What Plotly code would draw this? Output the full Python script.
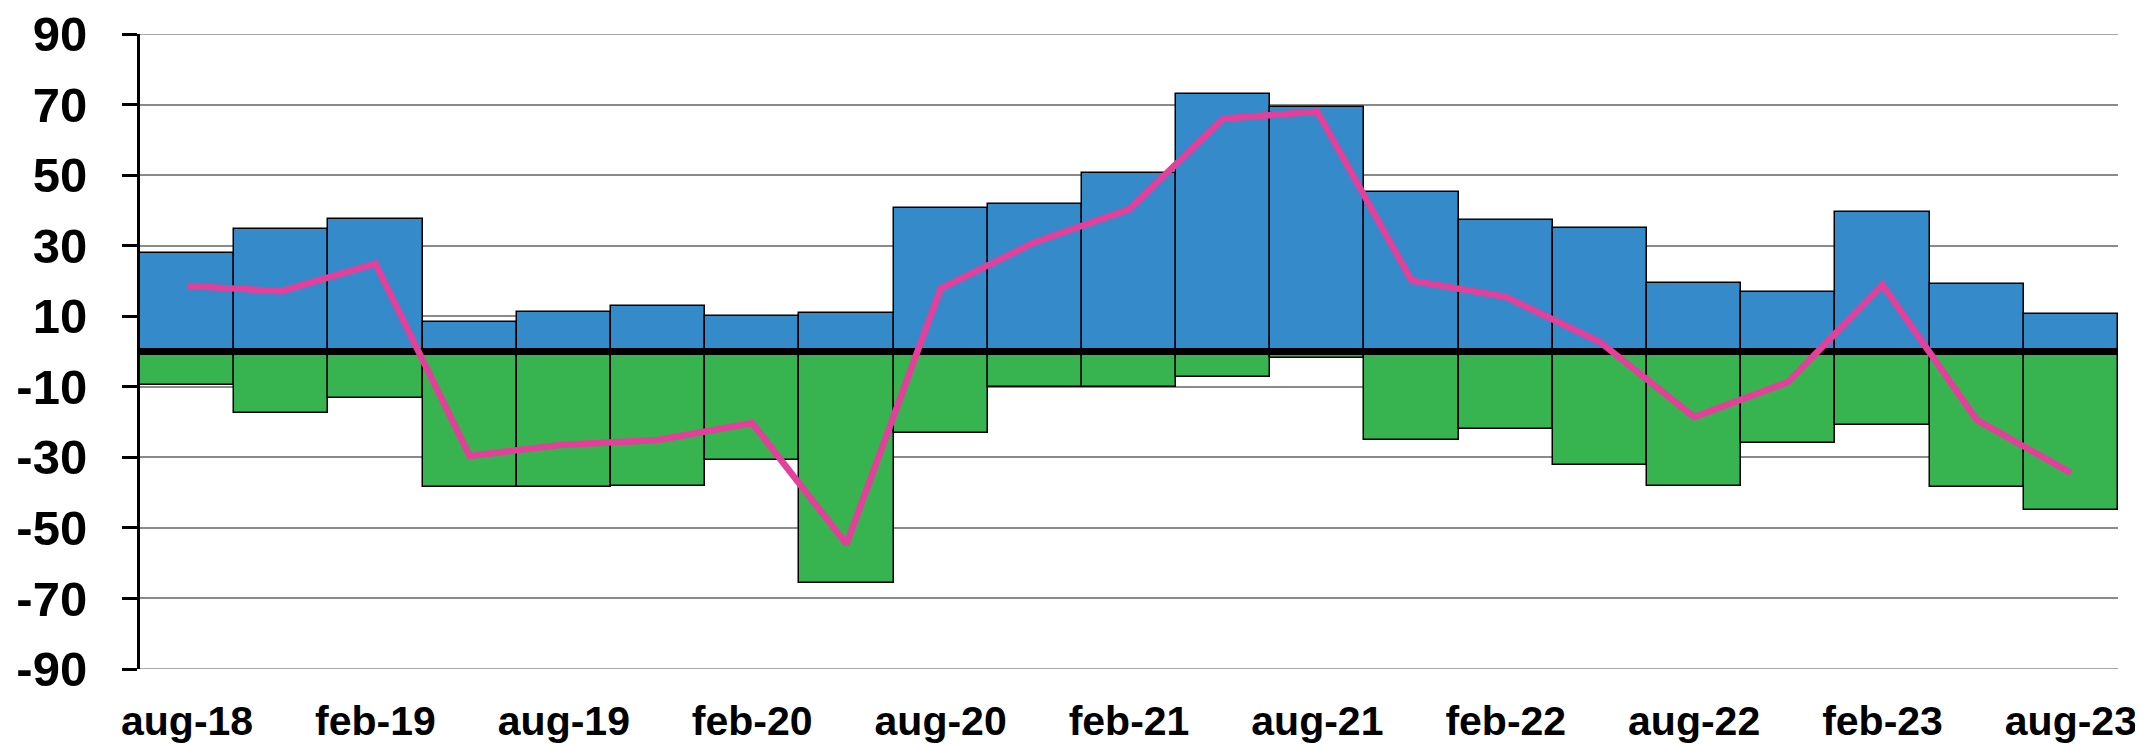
import plotly.graph_objects as go

months = ["aug-18", "nov-18", "feb-19", "may-19", "aug-19", "nov-19", "feb-20", "may-20",
          "aug-20", "nov-20", "feb-21", "may-21", "aug-21", "nov-21", "feb-22", "may-22",
          "aug-22", "nov-22", "feb-23", "may-23", "aug-23"]
positive = [28.0, 34.8, 37.7, 8.5, 11.3, 12.9, 10.1, 11.0, 40.8, 41.8, 50.5, 73.0, 69.4,
            45.3, 37.3, 34.9, 19.3, 17.0, 39.5, 19.1, 10.5]
negative = [-9.4, -17.5, -13.1, -38.3, -38.3, -38.0, -30.7, -65.5, -23.0, -10.2, -10.2,
            -7.1, -1.75, -25.2, -22.0, -32.1, -38.0, -25.9, -20.7, -38.3, -44.9]
balance = [18.6, 17.1, 24.9, -29.6, -26.4, -25.1, -20.3, -54.6, 17.8, 31.0, 40.3, 66.0,
           68.0, 20.1, 15.5, 2.7, -18.6, -8.6, 18.9, -19.4, -34.4]
y_ticks = [-90, -70, -50, -30, -10, 10, 30, 50, 70, 90]
y_tick_labels = ["-90", "-70", "-50", "-30", "-10", "10", "30", "50", "70", "90"]

idx = list(range(len(months)))
x_range = [-0.5, len(months) - 0.5]
y_range = [y_ticks[0], y_ticks[-1]]

BLUE = "#358ACA"
GREEN = "#37B44F"
PINK = "#E2409B"
GRID = "#8a8a8a"
FONT = "Liberation Sans, Arial, sans-serif"

fig = go.Figure()
fig.add_trace(go.Bar(x=idx, y=positive, width=1, marker=dict(color=BLUE, line=dict(color="black", width=1.5)),
                     showlegend=False, hoverinfo="y"))
fig.add_trace(go.Bar(x=idx, y=negative, width=1, marker=dict(color=GREEN, line=dict(color="black", width=1.5)),
                     showlegend=False, hoverinfo="y"))
# zero reference line (drawn between bars and the balance line)
fig.add_trace(go.Scatter(x=x_range, y=[0, 0], mode="lines", line=dict(color="black", width=7),
                         showlegend=False, hoverinfo="skip"))
fig.add_trace(go.Scatter(x=idx, y=balance, mode="lines", line=dict(color=PINK, width=6.5),
                         showlegend=False, hoverinfo="y"))

# gridlines at the range edges (plotly omits them)
for yv in y_range:
    fig.add_shape(type="line", xref="paper", x0=0, x1=1, yref="y", y0=yv, y1=yv,
                  line=dict(color=GRID, width=1.5), layer="below")

fig.update_layout(
    width=2143, height=745,
    margin=dict(l=132, r=33, t=26, b=84),
    paper_bgcolor="white", plot_bgcolor="white",
    barmode="overlay", bargap=0,
    font=dict(family=FONT, color="black"),
)
fig.update_xaxes(
    range=x_range, tickmode="array", tickvals=idx[::2], ticktext=months[::2],
    showgrid=False, zeroline=False, showline=False, ticks="",
    tickfont=dict(size=41, family=FONT, color="black", weight="bold"),
    ticklabelstandoff=24, automargin=False, ticklabeloverflow="allow",
)
fig.update_yaxes(
    range=y_range, tickmode="array", tickvals=y_ticks, ticktext=y_tick_labels,
    showgrid=True, gridcolor=GRID, gridwidth=1.5,
    zeroline=False, showline=True, linecolor="black", linewidth=3,
    ticks="outside", ticklen=15, tickwidth=3, tickcolor="black",
    tickfont=dict(size=49, family=FONT, color="black", weight="bold"),
    ticklabelstandoff=25, automargin=False, ticklabeloverflow="allow",
)

fig.write_html("out.html")
